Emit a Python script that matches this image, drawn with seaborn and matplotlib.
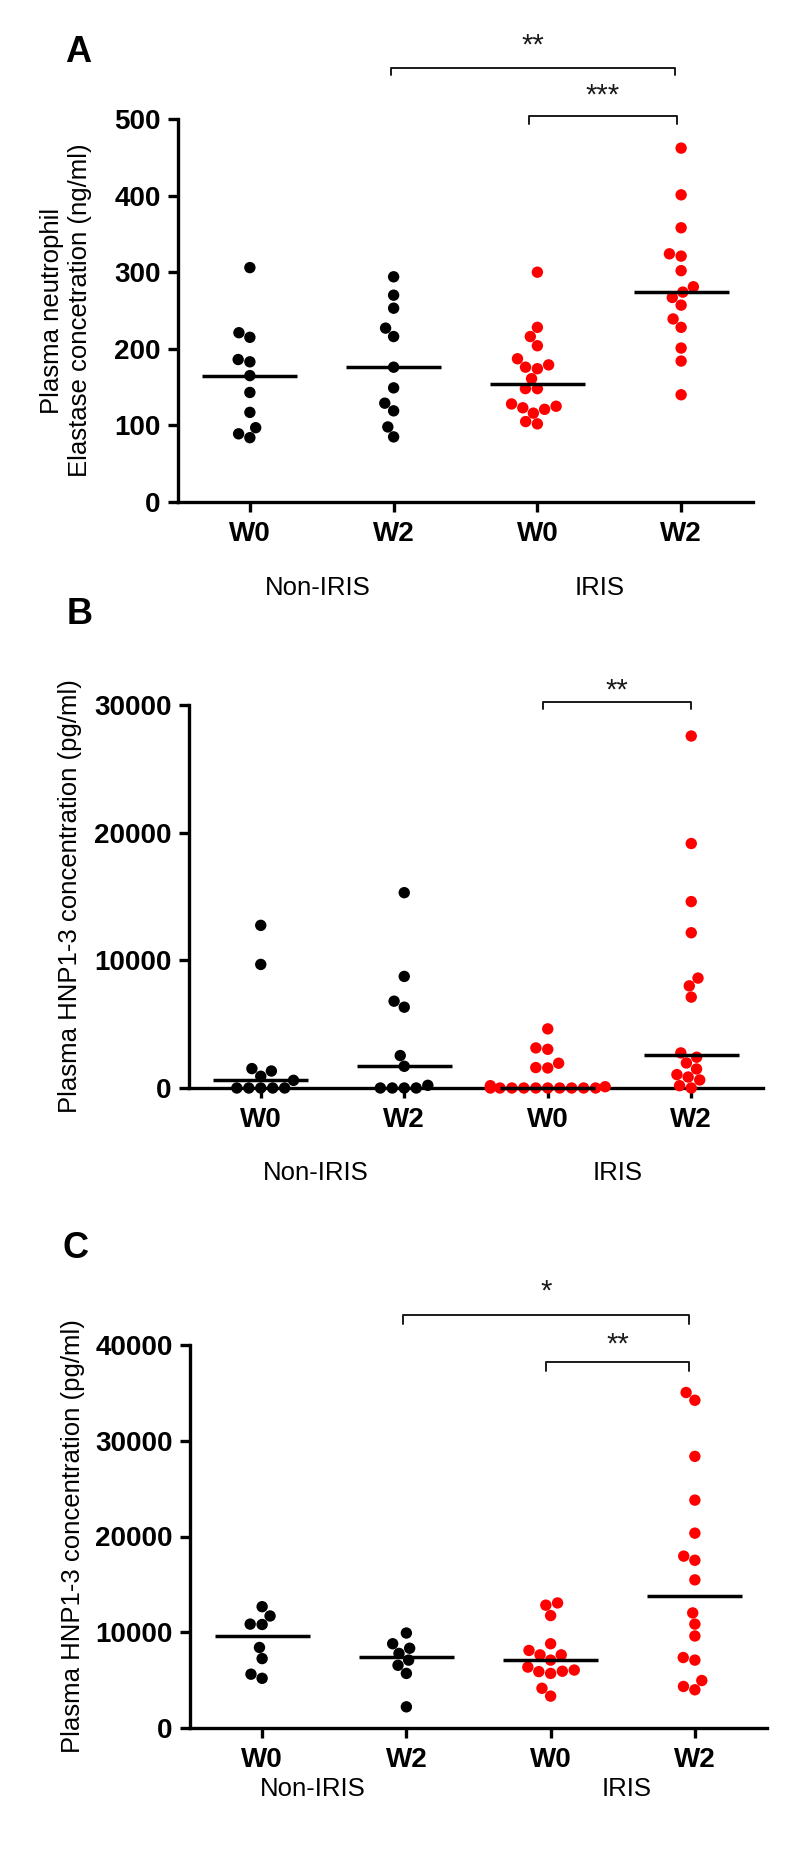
import numpy as np
import pandas as pd
import matplotlib
matplotlib.use("Agg")
import matplotlib.pyplot as plt
import matplotlib.transforms as mtrans
import seaborn as sns

# ---------------- data ----------------
categories = ["Non-IRIS W0", "Non-IRIS W2", "IRIS W0", "IRIS W2"]
tick_labels = ["W0", "W2", "W0", "W2"]
groups = ["Non-IRIS", "Non-IRIS", "IRIS", "IRIS"]
group_colors = {"Non-IRIS": "#000000", "IRIS": "#FF0000"}

# Panel A: plasma neutrophil elastase (ng/ml)
elastase_noniris_w0 = [306, 221, 215, 186, 183, 165, 143, 117, 97, 89, 84]
elastase_noniris_w2 = [294, 270, 253, 227, 216, 176, 149, 129, 119, 98, 85]
elastase_iris_w0 = [300, 228, 216, 204, 187, 179, 176, 174, 161, 148, 148, 128,
                    125, 123, 121, 116, 105, 102]
elastase_iris_w2 = [462, 401, 358, 324, 321, 302, 281, 274, 267, 257, 239, 228,
                    201, 184, 140]

# Panel B: plasma HNP1-3 (pg/ml)
hnpB_noniris_w0 = [12740, 9680, 1520, 1330, 920, 600, 0, 0, 0, 0, 0]
hnpB_noniris_w2 = [15300, 8740, 6800, 6330, 2540, 1700, 210, 0, 0, 0, 0]
hnpB_iris_w0 = [4630, 3140, 3030, 1940, 1600, 1570, 180, 100,
                0, 0, 0, 0, 0, 0, 0, 0, 0, 0]
hnpB_iris_w2 = [27570, 19150, 14600, 12160, 8610, 8000, 7120, 2750, 2410, 1960,
                1490, 1050, 860, 630, 180, 0]

# Panel C: plasma HNP1-3 (pg/ml)
hnpC_noniris_w0 = [12670, 11700, 10850, 10810, 8410, 7250, 5620, 5190]
hnpC_noniris_w2 = [9920, 8800, 8330, 7790, 7090, 6550, 5700, 2210]
hnpC_iris_w0 = [13060, 12830, 11740, 8800, 8100, 7640, 7640, 7090, 6360, 6050,
                5930, 5890, 5700, 4150, 3330]
hnpC_iris_w2 = [35040, 34230, 28370, 23800, 20350, 17950, 17520, 15470, 12020,
                10850, 9610, 7360, 7090, 4960, 4340, 3990]

yticks_A = [0, 100, 200, 300, 400, 500]
yticks_B = [0, 10000, 20000, 30000]
yticks_C = [0, 10000, 20000, 30000, 40000]

ylabel_A = "Plasma neutrophil\nElastase concetration (ng/ml)"
ylabel_B = "Plasma HNP1-3 concentration (pg/ml)"
ylabel_C = "Plasma HNP1-3 concentration (pg/ml)"

# significance brackets: (x1, x2, y_top, y_drop, label, label_y)
brackets_A = [(0.98, 2.96, 566, 558, "**", 596),
              (1.94, 2.97, 504, 493, "***", 531)]
brackets_B = [(1.965, 3.0, 30260, 29660, "**", 31150)]
brackets_C = [(0.98, 2.96, 43140, 42170, "*", 45600),
              (1.97, 2.96, 38180, 37290, "**", 40000)]

# ---------------- style ----------------
sns.set_style("ticks")
plt.rcParams["font.family"] = ["Liberation Sans", "DejaVu Sans"]
for key in ("text.color", "axes.labelcolor", "xtick.color", "ytick.color",
            "axes.edgecolor"):
    plt.rcParams[key] = "black"

W, H = 800, 1852
fig = plt.figure(figsize=(W / 100, H / 100), dpi=100)


def frac_rect(left, right, top, bottom):
    return [left / W, 1 - bottom / H, (right - left) / W, (bottom - top) / H]


def make_df(series):
    rows = []
    for cat, grp, vals in zip(categories, groups, series):
        for v in vals:
            rows.append({"cond": cat, "group": grp, "value": v})
    return pd.DataFrame(rows)


def draw_panel(rect, series, yticks, ylabel, ylabel_x, brackets, glabel_pos,
               glabel_y, letter, letter_xy):
    ax = fig.add_axes(rect)
    df = make_df(series)
    sns.swarmplot(data=df, x="cond", y="value", hue="group", order=categories,
                  palette=group_colors, size=8.2, linewidth=0, ax=ax,
                  legend=False, zorder=3, clip_on=False, warn_thresh=1)
    for i, vals in enumerate(series):
        ax.hlines(np.median(vals), i - 0.33, i + 0.33, color="black",
                  lw=2.5, zorder=4, clip_on=False)
    ax.set_xlim(-0.5, 3.5)
    ax.set_ylim(yticks[0], yticks[-1])
    ax.set_xticks(range(len(categories)))
    ax.set_xticklabels(tick_labels)
    ax.set_yticks(yticks)
    ax.set_yticklabels([str(t) for t in yticks])
    for lbl in ax.get_xticklabels() + ax.get_yticklabels():
        lbl.set_fontweight("bold")
        lbl.set_fontsize(20)
        lbl.set_color("black")
    ax.set_xlabel("")
    ax.set_ylabel("")
    sns.despine(ax=ax)
    for s in ("left", "bottom"):
        ax.spines[s].set_linewidth(2.4)
        ax.spines[s].set_color("black")
        ax.spines[s].set_zorder(2)
    ax.tick_params(axis="both", width=2.4, length=7.5, color="black")
    ax.tick_params(axis="y", pad=5)
    ax.tick_params(axis="x", pad=6)

    # group labels
    trans = mtrans.blended_transform_factory(ax.transData, ax.transAxes)
    for (gx, gtxt) in glabel_pos:
        ax.text(gx, glabel_y, gtxt, transform=trans, ha="center", va="center",
                fontsize=18.5, color="black")

    # brackets
    for (x1, x2, yt, yd, txt, ty) in brackets:
        ax.plot([x1, x1, x2, x2], [yd, yt, yt, yd], color="#1a1a1a", lw=1.4,
                clip_on=False, zorder=5)
        ax.text((x1 + x2) / 2, ty, txt, ha="center", va="center",
                fontsize=21, color="#1a1a1a", clip_on=False)

    # y label
    bbox = ax.get_position()
    yc = bbox.y0 + bbox.height / 2
    fig.text(ylabel_x / W, yc, ylabel, rotation=90, ha="center", va="center",
             fontsize=18.5, linespacing=1.25, multialignment="center",
             color="black")

    # panel letter
    fig.text(letter_xy[0] / W, 1 - letter_xy[1] / H, letter, fontsize=26,
             fontweight="bold", ha="center", va="center", color="black")
    return ax


draw_panel(frac_rect(178, 753, 119, 502),
           [elastase_noniris_w0, elastase_noniris_w2, elastase_iris_w0,
            elastase_iris_w2],
           yticks_A, ylabel_A, 66, brackets_A,
           [(0.47, "Non-IRIS"), (2.43, "IRIS")], -0.225, "A", (78, 53))

draw_panel(frac_rect(189, 763, 705, 1088),
           [hnpB_noniris_w0, hnpB_noniris_w2, hnpB_iris_w0, hnpB_iris_w2],
           yticks_B, ylabel_B, 70, brackets_B,
           [(0.38, "Non-IRIS"), (2.49, "IRIS")], -0.222, "B", (80, 615))

draw_panel(frac_rect(190, 767, 1345, 1728),
           [hnpC_noniris_w0, hnpC_noniris_w2, hnpC_iris_w0, hnpC_iris_w2],
           yticks_C, ylabel_C, 73, brackets_C,
           [(0.35, "Non-IRIS"), (2.53, "IRIS")], -0.16, "C", (76, 1248))

fig.savefig("out.png", dpi=100)
